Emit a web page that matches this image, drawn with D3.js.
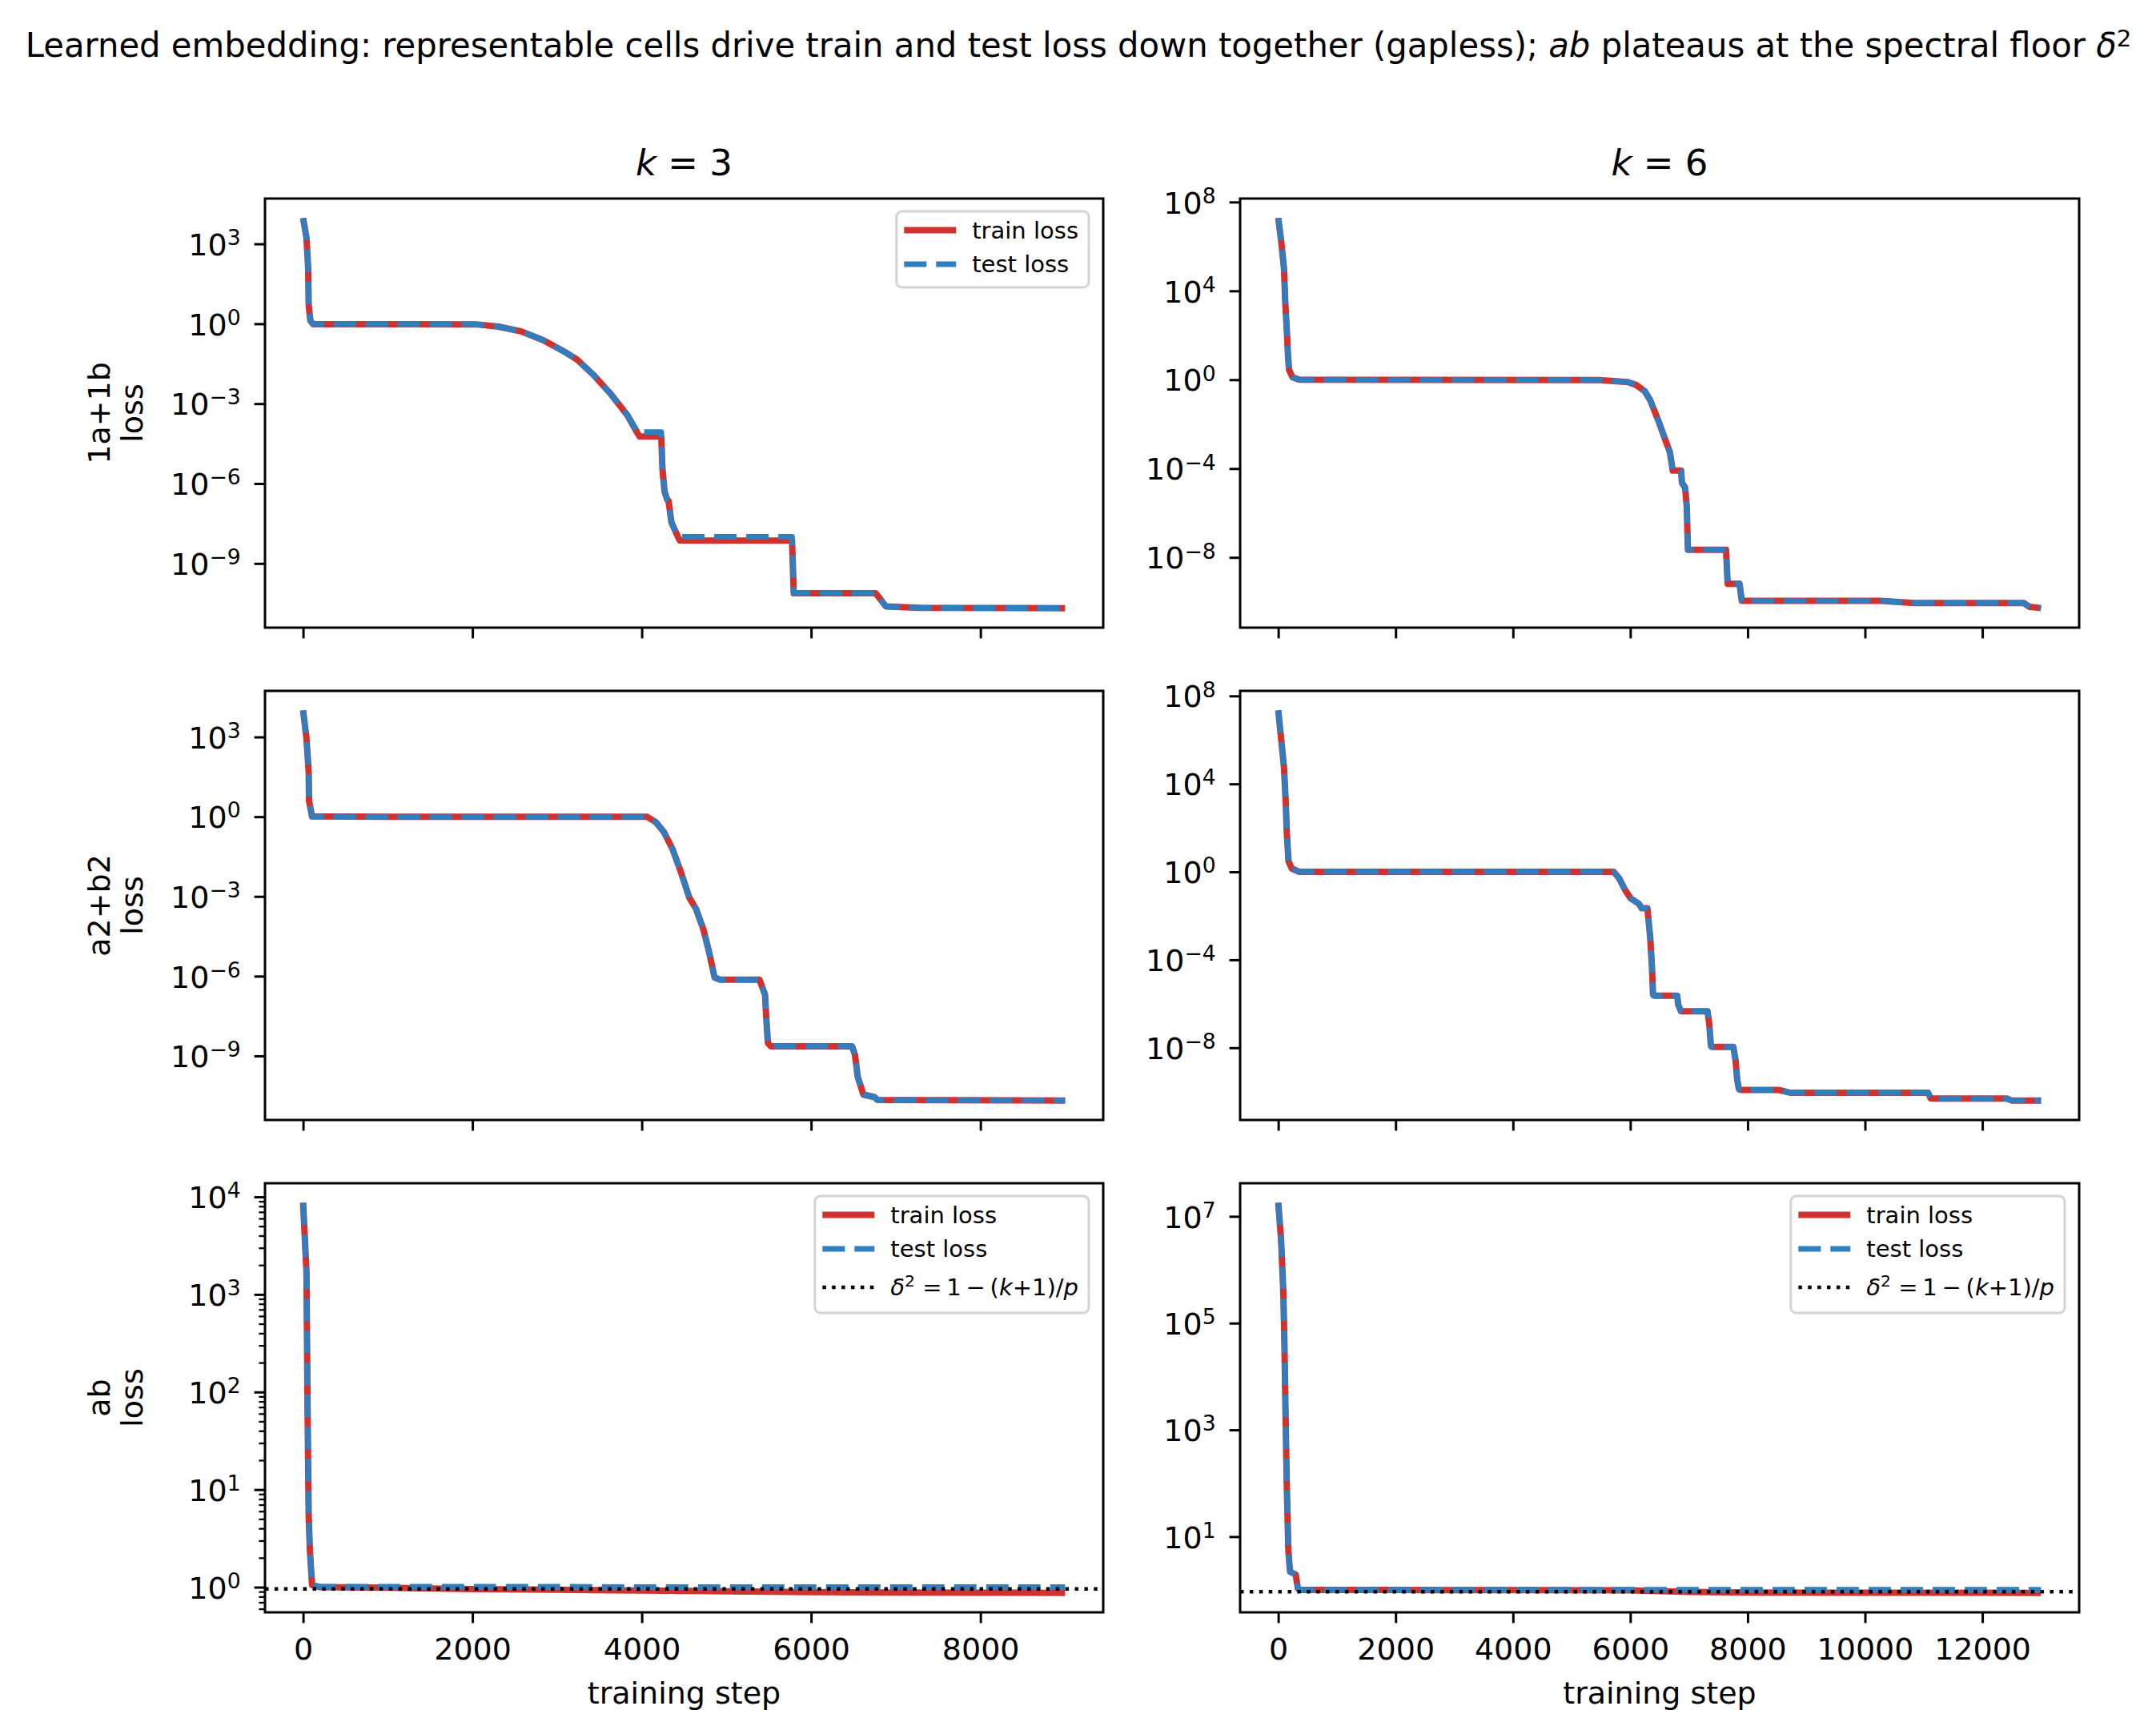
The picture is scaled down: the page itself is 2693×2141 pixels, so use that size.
<!DOCTYPE html>
<html><head><meta charset="utf-8">
<script src="https://cdn.jsdelivr.net/npm/d3@7"></script>
<style>
body{margin:0;background:#fff}
svg{display:block}
text{font-family:"DejaVu Sans",sans-serif;white-space:pre}
</style>
</head><body>
<svg id="c" width="2693" height="2141"></svg>
<script>
// ---------------- data ----------------
const colTitles = ["3", "6"];
const rowNames = ["1a+1b", "a2+b2", "ab"];
const xMaxSteps = [9000, 13000];
const xTicksK3 = [0, 2000, 4000, 6000, 8000];
const xTicksK6 = [0, 2000, 4000, 6000, 8000, 10000, 12000];
const yExpK3 = [-9, -6, -3, 0, 3];
const yExpK6 = [-8, -4, 0, 4, 8];
const yExpAbK3 = [0, 1, 2, 3, 4];
const yExpAbK6 = [1, 3, 5, 7];
const deltaSq = [0.959, 0.928];   // delta^2 = 1-(k+1)/p

// k=3, 1a+1b
const stepsK3_1a1b = [0,40,60,66,86,119,1000,2042,2307,2573,2838,3103,3236,3435,3634,3832,3952,3975,4230,4245,4270,4300,4317,4350,4416,4450,5775,5795,6763,6882,7280,9000];
const trainK3_1a1b = [9.3e3,1.7e3,1.2e2,5.0,1.3,0.96,0.96,0.95,0.78,0.52,0.24,0.083,0.045,0.0115,2.3e-3,3.6e-4,7.6e-5,5.8e-5,5.8e-5,3.2e-6,4.9e-7,2.5e-7,2.2e-7,3.5e-8,1.2e-8,7.2e-9,7.2e-9,7.6e-11,7.6e-11,2.45e-11,2.15e-11,2.1e-11];
const testK3_1a1b  = [9.3e3,1.7e3,1.2e2,5.0,1.3,0.96,0.96,0.95,0.78,0.52,0.24,0.083,0.045,0.0115,2.3e-3,3.6e-4,8.5e-5,8.5e-5,8.5e-5,3.2e-6,4.9e-7,2.5e-7,2.2e-7,3.5e-8,1.2e-8,1.0e-8,1.0e-8,7.6e-11,7.6e-11,2.45e-11,2.15e-11,2.1e-11];

// k=3, a2+b2
const stepsK3_a2b2 = [0,40,66,70,106,1000,4064,4164,4263,4363,4462,4562,4641,4727,4794,4860,4926,5390,5456,5470,5490,5523,6484,6518,6551,6584,6617,6750,6783,9000];
const trainK3_a2b2 = [1.0e4,9.1e2,47,4.0,1.02,0.99,0.99,0.63,0.26,0.06,8.3e-3,8.9e-4,3.4e-4,5.9e-5,8.3e-6,8.9e-7,7.4e-7,7.4e-7,2.0e-7,2.8e-8,3.0e-9,2.3e-9,2.3e-9,1.1e-9,1.6e-10,7.6e-11,3.5e-11,2.8e-11,2.2e-11,2.1e-11];
const testK3_a2b2  = [1.0e4,9.1e2,47,4.0,1.02,0.99,0.99,0.63,0.26,0.06,8.3e-3,8.9e-4,3.4e-4,5.9e-5,8.3e-6,8.9e-7,7.4e-7,7.4e-7,2.0e-7,2.8e-8,3.0e-9,2.3e-9,2.3e-9,1.1e-9,1.6e-10,7.6e-11,3.5e-11,2.8e-11,2.2e-11,2.1e-11];

// k=3, ab
const stepsK3_ab = [0,40,53,66,80,106,200,1000,2000,3000,4000,5000,6000,7000,8000,9000];
const trainK3_ab = [8700,1700,65,5.4,2.4,1.05,1.0,0.985,0.955,0.94,0.925,0.905,0.89,0.882,0.878,0.875];
const testK3_ab  = [8700,1700,65,5.4,2.4,1.05,1.01,1.01,1.01,1.01,1.0,1.0,1.0,1.0,1.0,1.0];

// k=6, 1a+1b
const stepsK6_1a1b = [0,50,98,117,146,165,184,242,357,5477,5956,6100,6244,6340,6484,6580,6675,6723,6867,6880,6934,6963,6982,7632,7660,7862,7900,10263,10838,12704,12800,13000];
const trainK6_1a1b = [1.9e7,1.7e6,1.0e5,4.2e3,1.7e2,14,2.8,1.3,1.0,0.97,0.79,0.58,0.31,0.12,0.013,2.6e-3,5.4e-4,8.1e-5,8.1e-5,2.3e-5,1.4e-5,1.8e-6,2.2e-8,2.2e-8,6.5e-10,6.5e-10,1.1e-10,1.1e-10,8.9e-11,8.9e-11,6.0e-11,5.2e-11];
const testK6_1a1b  = [1.9e7,1.7e6,1.0e5,4.2e3,1.7e2,14,2.8,1.3,1.0,0.97,0.79,0.58,0.31,0.12,0.013,2.6e-3,5.4e-4,8.1e-5,8.1e-5,2.3e-5,1.4e-5,1.8e-6,2.2e-8,2.2e-8,6.5e-10,6.5e-10,1.1e-10,1.1e-10,8.9e-11,8.9e-11,6.0e-11,5.2e-11];

// k=6, a2+b2
const stepsK6_a2b2 = [0,50,98,127,146,175,232,357,5717,5812,5908,6004,6148,6196,6292,6340,6369,6388,6400,6799,6818,6866,7316,7345,7374,7390,7756,7794,7823,7852,7900,8541,8733,11077,11120,12418,12500,13000];
const trainK6_a2b2 = [2.2e7,1.07e6,5.5e4,1.55e3,59,3.0,1.4,1.0,1.0,0.5,0.155,0.063,0.035,0.022,0.022,9.8e-4,5.0e-5,2.6e-6,2.35e-6,2.35e-6,8.9e-7,4.5e-7,4.5e-7,1.26e-7,1.2e-8,1.1e-8,1.1e-8,2.7e-9,3.4e-10,1.3e-10,1.2e-10,1.2e-10,8.9e-11,8.9e-11,4.9e-11,4.9e-11,4.0e-11,4.0e-11];
const testK6_a2b2  = [2.2e7,1.07e6,5.5e4,1.55e3,59,3.0,1.4,1.0,1.0,0.5,0.155,0.063,0.035,0.022,0.022,9.8e-4,5.0e-5,2.6e-6,2.35e-6,2.35e-6,8.9e-7,4.5e-7,4.5e-7,1.26e-7,1.2e-8,1.1e-8,1.1e-8,2.7e-9,3.4e-10,1.3e-10,1.2e-10,1.2e-10,8.9e-11,8.9e-11,4.9e-11,4.9e-11,4.0e-11,4.0e-11];

// k=6, ab
const stepsK6_ab = [0,48,86,105,124,144,172,201,297,335,380,2000,4000,6000,7000,8000,10000,12000,13000];
const trainK6_ab = [1.8e7,3.7e6,4.0e5,4.3e4,2.1e3,110,5.5,2.2,1.95,1.06,1.0,1.0,0.995,0.985,0.92,0.895,0.89,0.887,0.885];
const testK6_ab  = [1.8e7,3.7e6,4.0e5,4.3e4,2.1e3,110,5.5,2.2,1.95,1.06,1.01,1.01,1.01,1.01,1.01,1.01,1.01,1.01,1.01];

// ---------------- layout & style ----------------
const W = 2693, H = 2141;
const RED = "#cf3330", BLUE = "#2f7ec0";
const colBox = [{x:331, w:1047}, {x:1549, w:1048}];
const rowBox = [{y:248, h:536}, {y:863, h:536}, {y:1478, h:536}];
const TICK = 13.4, MINOR = 7.6, FS = 38, LFS = 29;
const MINUS = "\u2212", THIN = "\u2009";

const svg = d3.select("#c");
svg.append("rect").attr("width", W).attr("height", H).attr("fill", "#fff");

const panels = [
  {row:0,col:0,steps:stepsK3_1a1b,train:trainK3_1a1b,test:testK3_1a1b,yExp:yExpK3,legend:2},
  {row:0,col:1,steps:stepsK6_1a1b,train:trainK6_1a1b,test:testK6_1a1b,yExp:yExpK6,legend:0},
  {row:1,col:0,steps:stepsK3_a2b2,train:trainK3_a2b2,test:testK3_a2b2,yExp:yExpK3,legend:0},
  {row:1,col:1,steps:stepsK6_a2b2,train:trainK6_a2b2,test:testK6_a2b2,yExp:yExpK6,legend:0},
  {row:2,col:0,steps:stepsK3_ab,train:trainK3_ab,test:testK3_ab,yExp:yExpAbK3,legend:3,floor:deltaSq[0],minor:true},
  {row:2,col:1,steps:stepsK6_ab,train:trainK6_ab,test:testK6_ab,yExp:yExpAbK6,legend:3,floor:deltaSq[1]}
];

function supLabel(sel, base, exp, size) {
  sel.text(null);
  sel.append("tspan").text(base);
  sel.append("tspan").attr("font-size", size*0.7).attr("dy", -0.34*size).text(exp);
}

panels.forEach(p => {
  const cb = colBox[p.col], rb = rowBox[p.row];
  const xm = xMaxSteps[p.col];
  const x = d3.scaleLinear().domain([-0.05*xm, 1.05*xm]).range([cb.x, cb.x + cb.w]);
  const logs = p.train.concat(p.test).map(Math.log10);
  const lo = d3.min(logs), hi = d3.max(logs), r = hi - lo;
  const y = d3.scaleLog().domain([Math.pow(10, lo - 0.05*r), Math.pow(10, hi + 0.05*r)]).range([rb.y + rb.h, rb.y]);
  const g = svg.append("g");

  const line = d3.line().x((d, i) => x(p.steps[i])).y(d => y(d));
  g.append("path").attr("d", line(p.train)).attr("fill", "none")
    .attr("stroke", RED).attr("stroke-width", 8).attr("stroke-linejoin", "round");
  g.append("path").attr("d", line(p.test)).attr("fill", "none")
    .attr("stroke", BLUE).attr("stroke-width", 7).attr("stroke-linejoin", "round")
    .attr("stroke-dasharray", "28,12");
  if (p.floor != null) {
    g.append("line").attr("x1", cb.x).attr("x2", cb.x + cb.w)
      .attr("y1", y(p.floor)).attr("y2", y(p.floor))
      .attr("stroke", "#000").attr("stroke-width", 4.5).attr("stroke-dasharray", "4.5,7.4");
  }

  // x axis
  const xt = p.col === 0 ? xTicksK3 : xTicksK6;
  const xa = d3.axisBottom(x).tickValues(xt).tickSize(TICK).tickPadding(18)
    .tickFormat(d => p.row === 2 ? String(d) : "");
  const gx = g.append("g").attr("transform", `translate(0,${rb.y + rb.h})`).call(xa);
  gx.select(".domain").remove();
  gx.attr("font-family", "DejaVu Sans").attr("font-size", FS);
  gx.selectAll(".tick line").attr("stroke", "#000").attr("stroke-width", 3);
  gx.selectAll(".tick text").attr("fill", "#000").attr("y", 32).attr("dy", "0.71em");

  // y axis
  if (p.minor) {
    const minorVals = [];
    for (let e = -1; e <= 5; e++) for (let m = 2; m <= 9; m++) {
      const v = m * Math.pow(10, e);
      const [d0, d1] = y.domain();
      if (v >= d0 && v <= d1) minorVals.push(v);
    }
    const gm = g.append("g").attr("transform", `translate(${cb.x},0)`)
      .call(d3.axisLeft(y).tickValues(minorVals).tickSize(MINOR).tickFormat(""));
    gm.select(".domain").remove();
    gm.selectAll(".tick line").attr("stroke", "#000").attr("stroke-width", 2.3);
  }
  const ya = d3.axisLeft(y).tickValues(p.yExp.map(e => Math.pow(10, e))).tickSize(TICK).tickPadding(17);
  const gy = g.append("g").attr("transform", `translate(${cb.x},0)`).call(ya);
  gy.select(".domain").remove();
  gy.attr("font-family", "DejaVu Sans").attr("font-size", FS);
  gy.selectAll(".tick line").attr("stroke", "#000").attr("stroke-width", 3);
  gy.selectAll(".tick text").attr("fill", "#000").attr("dy", "0.36em").each(function(d) {
    const e = Math.round(Math.log10(d));
    supLabel(d3.select(this), "10", String(e).replace("-", MINUS), FS);
  });

  // frame
  g.append("rect").attr("x", cb.x).attr("y", rb.y).attr("width", cb.w).attr("height", rb.h)
    .attr("fill", "none").attr("stroke", "#000").attr("stroke-width", 3);

  // legend
  if (p.legend) {
    const lg = g.append("g");
    const right = cb.x + cb.w - 18, top = rb.y + 16;
    const rowsY = [23.5, 66, 114];
    const items = [{t:"train"}, {t:"test"}, {t:"floor"}].slice(0, p.legend);
    const texts = [];
    const box = lg.append("rect");
    items.forEach((it, i) => {
      const ty = top + rowsY[i];
      const tx = lg.append("text").attr("y", ty + 10).attr("font-size", LFS).attr("fill", "#000");
      if (it.t === "train") tx.text("train loss");
      else if (it.t === "test") tx.text("test loss");
      else {
        tx.append("tspan").attr("font-style", "italic").text("\u03b4");
        tx.append("tspan").attr("font-size", LFS*0.7).attr("dy", -11).text("2");
        tx.append("tspan").attr("dy", 11).text(" =" + THIN + "1" + THIN + MINUS + THIN + "(");
        tx.append("tspan").attr("font-style", "italic").text("k");
        tx.append("tspan").text("+1)/");
        tx.append("tspan").attr("font-style", "italic").text("p");
      }
      texts.push({tx, ty, t: it.t});
    });
    const maxW = d3.max(texts, d => d.tx.node().getComputedTextLength());
    const bw = 94.5 + maxW + 13;
    const left = right - bw;
    const bh = p.legend === 2 ? 95 : 146;
    box.attr("x", left).attr("y", top).attr("width", bw).attr("height", bh)
      .attr("rx", 7).attr("fill", "#fff").attr("fill-opacity", 0.8)
      .attr("stroke", "#d4d4d4").attr("stroke-width", 3);
    texts.forEach(d => {
      d.tx.attr("x", left + 94.5);
      const h = lg.append("line").attr("x1", left + 9.5).attr("x2", left + 74.5)
        .attr("y1", d.ty).attr("y2", d.ty);
      if (d.t === "train") h.attr("stroke", RED).attr("stroke-width", 8);
      else if (d.t === "test") h.attr("stroke", BLUE).attr("stroke-width", 7).attr("stroke-dasharray", "28,12");
      else h.attr("stroke", "#000").attr("stroke-width", 4.5).attr("stroke-dasharray", "4.5,7.4");
    });
  }
});

// y labels (two lines, rotated)
rowNames.forEach((name, i) => {
  const cy = rowBox[i].y + rowBox[i].h / 2;
  [[name, 137], ["loss", 178]].forEach(([t, bx]) => {
    svg.append("text").attr("transform", `translate(${bx},${cy}) rotate(-90)`)
      .attr("text-anchor", "middle").attr("font-size", FS).attr("fill", "#000").text(t);
  });
});

// column titles
colTitles.forEach((k, c) => {
  const t = svg.append("text").attr("x", colBox[c].x + colBox[c].w / 2).attr("y", 219)
    .attr("text-anchor", "middle").attr("font-size", 45).attr("fill", "#000");
  t.append("tspan").attr("font-style", "italic").text("k");
  t.append("tspan").text(" = " + k);
});

// x labels
colBox.forEach(cb => {
  svg.append("text").attr("x", cb.x + cb.w / 2).attr("y", 2128).attr("text-anchor", "middle")
    .attr("font-size", FS).attr("fill", "#000").text("training step");
});

// suptitle
const title = svg.append("text").attr("x", 1347).attr("y", 71).attr("text-anchor", "middle")
  .attr("font-size", 38).attr("fill", "#000");
title.append("tspan").text("Learned embedding: representable cells drive train and test loss down together (gapless); ");
title.append("tspan").attr("font-style", "italic").text("ab");
title.append("tspan").text(" plateaus at the spectral floor ");
title.append("tspan").attr("font-style", "italic").text("\u03b4");
title.append("tspan").attr("font-size", "0.7em").attr("dy", "-0.45em").text("2");
const tw = title.node().getComputedTextLength();
title.attr("font-size", 38 * 2631 / tw);
</script>
</body></html>
